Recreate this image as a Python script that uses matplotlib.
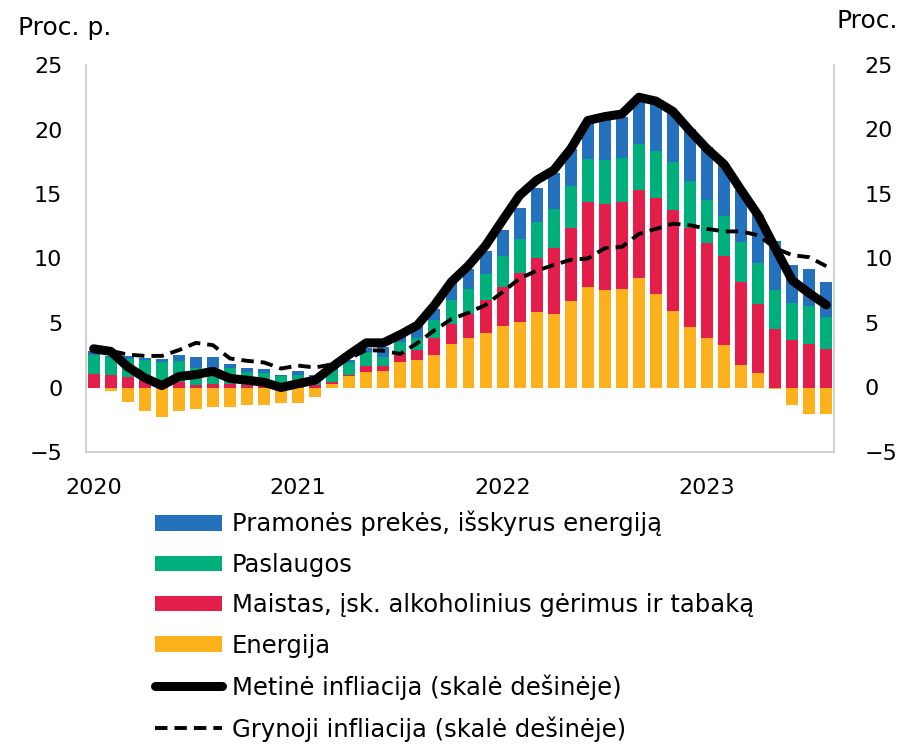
import matplotlib
matplotlib.use("Agg")
import matplotlib.pyplot as plt
import numpy as np

months = list(range(44))  # Jan 2020 .. Aug 2023
year_labels = ["2020", "2021", "2022", "2023"]
year_pos = [0, 12, 24, 36]

energy = [0.0, -0.3, -1.1, -1.8, -2.3, -1.85, -1.7, -1.5, -1.55, -1.35, -1.35, -1.2,
          -1.2, -0.75, 0.25, 0.9, 1.2, 1.25, 1.95, 2.1, 2.55, 3.35, 3.85, 4.25,
          4.73, 5.1, 5.87, 5.66, 6.7, 7.8, 7.55, 7.6, 8.45, 7.26, 5.95, 4.67,
          3.8, 3.26, 1.73, 1.16, -0.13, -1.37, -2.04, -2.09]
food = [1.05, 0.95, 0.85, 0.6, 0.6, 0.4, 0.2, 0.3, 0.25, 0.2, 0.15, 0.1,
        0.1, 0.2, 0.2, 0.1, 0.45, 0.42, 0.7, 0.8, 1.25, 1.6, 1.86, 2.53,
        3.07, 3.8, 4.18, 5.17, 5.7, 6.6, 6.7, 6.8, 6.85, 7.44, 7.8, 7.7,
        7.4, 6.9, 6.45, 5.33, 4.52, 3.67, 3.36, 3.02]
services = [1.5, 1.45, 1.35, 1.5, 1.35, 1.65, 1.3, 1.25, 1.25, 1.0, 1.0, 0.8,
            0.85, 0.65, 0.9, 0.9, 1.1, 0.7, 0.9, 0.95, 1.4, 1.8, 1.96, 1.99,
            2.4, 2.6, 2.8, 3.0, 3.2, 3.35, 3.35, 3.4, 3.6, 3.67, 3.75, 3.6,
            3.35, 3.1, 3.1, 3.18, 3.0, 2.86, 2.92, 2.46]
goods = [0.3, 0.05, 0.25, 0.2, 0.25, 0.45, 0.85, 0.8, 0.35, 0.35, 0.3, 0.05,
         0.3, 0.15, 0.15, 0.25, 0.35, 0.77, 0.55, 0.95, 0.9, 1.45, 1.55, 1.84,
         2.0, 2.4, 2.6, 2.8, 2.9, 2.85, 3.1, 3.2, 3.5, 3.6, 3.9, 4.1,
         4.1, 4.1, 4.0, 3.7, 3.8, 3.0, 2.89, 2.71]
headline = [3.0, 2.8, 1.6, 0.75, 0.15, 0.85, 1.0, 1.26, 0.7, 0.57, 0.4, 0.0,
            0.3, 0.57, 1.6, 2.56, 3.46, 3.46, 4.1, 4.83, 6.38, 8.2, 9.45, 11.0,
            12.97, 14.9, 16.07, 16.85, 18.5, 20.7, 21.0, 21.2, 22.5, 22.2, 21.4, 19.9,
            18.5, 17.3, 15.3, 13.35, 10.8, 8.3, 7.3, 6.4]
core = [3.0, 2.85, 2.55, 2.45, 2.45, 2.9, 3.46, 3.28, 2.25, 2.07, 1.94, 1.47,
        1.7, 1.55, 1.8, 2.25, 2.9, 2.85, 2.6, 3.45, 4.44, 5.3, 5.8, 6.4,
        7.4, 8.45, 9.05, 9.5, 9.9, 10.0, 10.8, 10.9, 11.9, 12.3, 12.7, 12.58,
        12.3, 12.1, 12.1, 11.8, 10.8, 10.26, 10.1, 9.4]

labels = ["Pramonės prekės, išskyrus energiją", "Paslaugos",
          "Maistas, įsk. alkoholinius gėrimus ir tabaką", "Energija",
          "Metinė infliacija (skalė dešinėje)", "Grynoji infliacija (skalė dešinėje)"]
colors = {"goods": "#2472BD", "services": "#00B07C", "food": "#E31E4B", "energy": "#FDB11C"}

plt.rcParams['font.family'] = ['DejaVu Sans']
fig = plt.figure(figsize=(9.05, 7.44), dpi=100)
ax = fig.add_axes([86/905, 1-452/744, (834-86)/905, (452-65)/744])

x = np.array(months)
pos_bottom = np.zeros(len(x))
neg_bottom = np.zeros(len(x))
handles = {}
for key, vals in [("energy", energy), ("food", food), ("services", services), ("goods", goods)]:
    v = np.array(vals, dtype=float)
    bottom = np.where(v >= 0, pos_bottom, neg_bottom)
    handles[key] = ax.bar(x, v, bottom=bottom, width=0.7, color=colors[key], linewidth=0)
    pos_bottom = pos_bottom + np.where(v >= 0, v, 0)
    neg_bottom = neg_bottom + np.where(v < 0, v, 0)

ax.set_xlim(-0.45, 43.45)
ax.set_ylim(-5, 25)
ax.set_yticks(range(-5, 26, 5))
ax.set_xticks(year_pos)
ax.set_xticklabels(year_labels)
ax.tick_params(axis='x', length=0, pad=19, labelsize=16)
ax.tick_params(axis='y', length=0, pad=17, labelsize=16)
for s in ["left", "right", "bottom"]:
    ax.spines[s].set_color("#c8c8c8")
    ax.spines[s].set_linewidth(1.2)
ax.spines["top"].set_visible(False)

ax2 = ax.twinx()
ax2.set_ylim(-5, 25)
ax2.set_yticks(range(-5, 26, 5))
ax2.tick_params(axis='y', length=0, pad=22, labelsize=16)
for s in ax2.spines.values():
    s.set_visible(False)

l1, = ax2.plot(x, headline, color="black", linewidth=6.5, solid_capstyle="round",
               solid_joinstyle="round")
l2, = ax2.plot(x, core, color="black", linewidth=2.8, linestyle=(0, (3.2, 1.8)))

fig.text(18/905, 1-28/744, "Proc. p.", fontsize=18, va="center", ha="left")
fig.text(898/905, 1-21/744, "Proc.", fontsize=18, va="center", ha="right")

leg = fig.legend([handles["goods"], handles["services"], handles["food"], handles["energy"], l1, l2],
                 labels, loc="upper left", bbox_to_anchor=(155/905, 1-511/744),
                 frameon=False, fontsize=17.5, handlelength=2.75, handleheight=0.6,
                 handletextpad=0.42, labelspacing=0.675, borderpad=0, borderaxespad=0)

fig.savefig("out.png", dpi=100)
